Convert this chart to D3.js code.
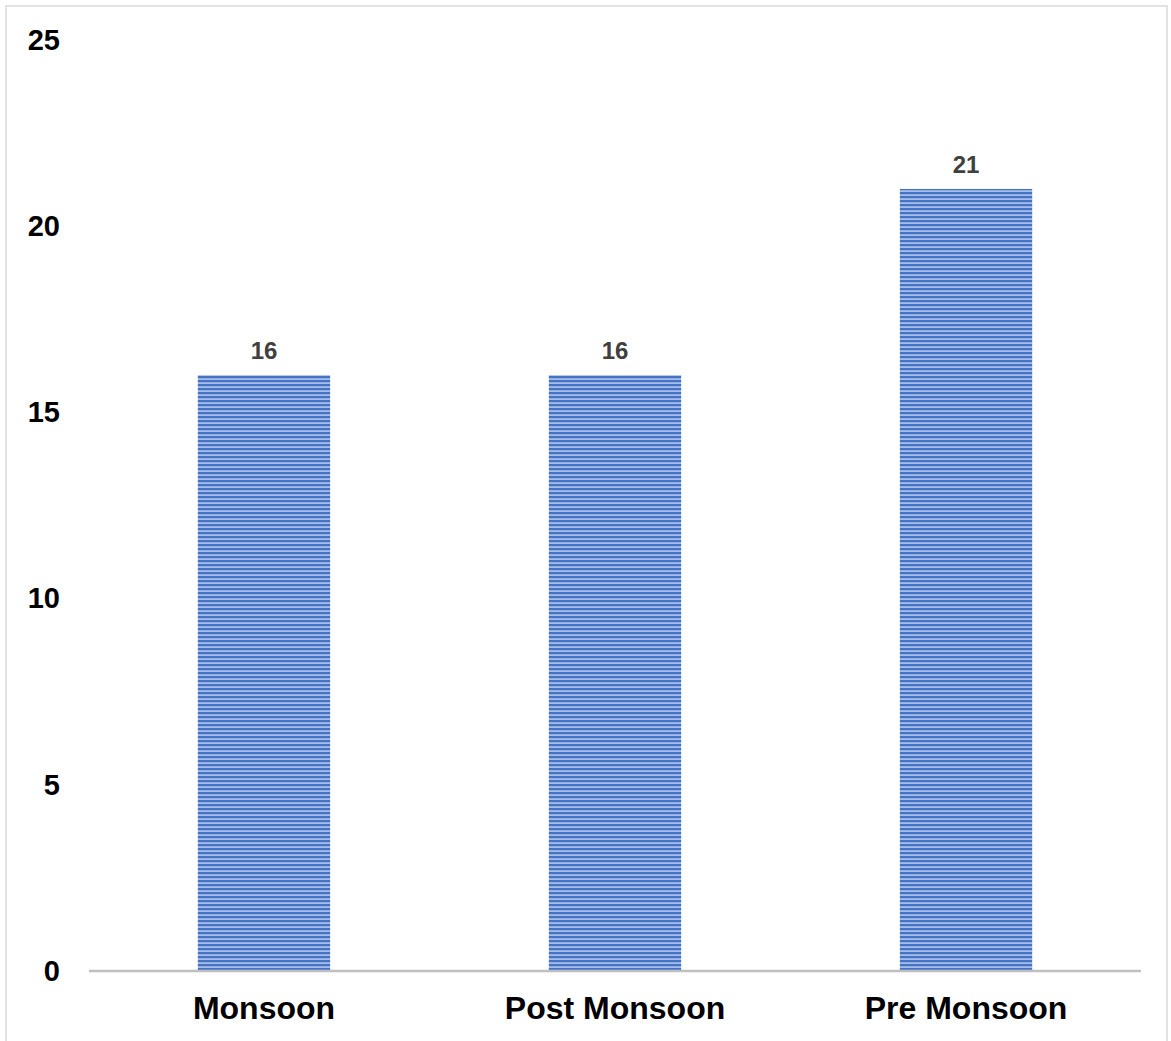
<!DOCTYPE html>
<html><head><meta charset="utf-8">
<script src="https://cdn.jsdelivr.net/npm/d3@7"></script>
<style>body{margin:0;background:#fff}svg{display:block}text{font-family:"Liberation Sans",Arial,sans-serif}</style>
</head><body>
<script>
const categories = ["Monsoon", "Post Monsoon", "Pre Monsoon"];
const values = [16, 16, 21];
const yTicks = [0, 5, 10, 15, 20, 25];

const W = 1171, H = 1041;
const svg = d3.select("body").append("svg").attr("width", W).attr("height", H);

svg.append("rect").attr("x", 6).attr("y", 6).attr("width", 1161).attr("height", H)
  .attr("fill", "#fff").attr("stroke", "#d9d9d9").attr("stroke-width", 1.5);

const defs = svg.append("defs");
const pat = defs.append("pattern").attr("id", "stripes").attr("patternUnits", "userSpaceOnUse")
  .attr("width", 8).attr("height", 4);
pat.append("rect").attr("width", 8).attr("height", 4).attr("fill", "#a8bde6");
pat.append("rect").attr("width", 8).attr("height", 2.2).attr("fill", "#4472c4");

const x = d3.scaleBand().domain(categories).range([89, 1141]).paddingInner(0.623).paddingOuter(0.31);
const y = d3.scaleLinear().domain([0, 25]).range([971, 40]);

svg.append("g").selectAll("rect").data(values).join("rect")
  .attr("x", (d, i) => x(categories[i]))
  .attr("y", d => y(d))
  .attr("width", x.bandwidth())
  .attr("height", d => y(0) - y(d))
  .attr("fill", "url(#stripes)");

svg.append("g").selectAll("text").data(values).join("text")
  .attr("x", (d, i) => x(categories[i]) + x.bandwidth() / 2)
  .attr("y", d => y(d) - 16)
  .attr("text-anchor", "middle")
  .style("font-size", "24px").attr("font-weight", "bold").attr("fill", "#404040")
  .text(d => d);

svg.append("line").attr("x1", 89).attr("x2", 1141).attr("y1", y(0)).attr("y2", y(0))
  .attr("stroke", "#bfbfbf").attr("stroke-width", 2.5);

const yAxis = d3.axisLeft(y).tickValues(yTicks).tickSize(0).tickPadding(0);
const gy = svg.append("g").attr("transform", "translate(60,0)").call(yAxis);
gy.select(".domain").remove();
gy.selectAll("text").style("font-size", "29px").attr("font-weight", "bold").attr("fill", "#000")
  .attr("font-family", '"Liberation Sans",Arial,sans-serif');

const xAxis = d3.axisBottom(x).tickSize(0).tickPadding(0);
const gx = svg.append("g").attr("transform", "translate(0,996)").call(xAxis);
gx.select(".domain").remove();
gx.selectAll("text").style("font-size", "32px").attr("font-weight", "bold").attr("fill", "#000")
  .attr("font-family", '"Liberation Sans",Arial,sans-serif');
</script>
</body></html>
